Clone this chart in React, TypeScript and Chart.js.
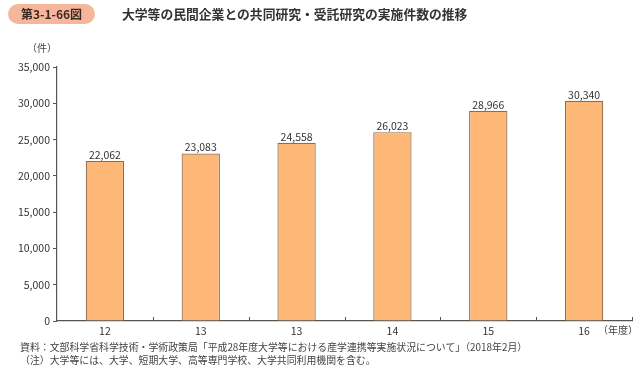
import React, { useEffect, useRef } from "react";
import { Chart, registerables } from "chart.js";

Chart.register(...registerables);

const categories = ["12", "13", "13", "14", "15", "16"];
const values = [22062, 23083, 24558, 26023, 28966, 30340];
const yTicks = [0, 5000, 10000, 15000, 20000, 25000, 30000, 35000];

const titleBadge = "第3-1-66図";
const titleText = "大学等の民間企業との共同研究・受託研究の実施件数の推移";
const yUnit = "（件）";
const xUnit = "（年度）";
const sourceLine = "資料：文部科学省科学技術・学術政策局「平成28年度大学等における産学連携等実施状況について」（2018年2月）";
const noteLine = "（注）大学等には、大学、短期大学、高等専門学校、大学共同利用機関を含む。";

const FONT = "'Noto Sans CJK JP', 'Noto Sans', sans-serif";
const fmt = (v: number) => v.toLocaleString("en-US");

export default function App() {
  const ref = useRef<HTMLCanvasElement>(null);

  useEffect(() => {
    const extras = {
      id: "extras",
      afterDatasetsDraw(chart: any) {
        const { ctx } = chart;
        const meta = chart.getDatasetMeta(0);
        ctx.save();
        ctx.fillStyle = "#333";
        ctx.font = `10.5px ${FONT}`;
        ctx.textAlign = "center";
        ctx.textBaseline = "bottom";
        meta.data.forEach((bar: any, i: number) => {
          ctx.fillText(fmt(values[i]), bar.x, bar.y - 1);
        });
        const xs = chart.scales.x;
        const ya = chart.chartArea.bottom;
        const step = xs.getPixelForValue(1) - xs.getPixelForValue(0);
        ctx.strokeStyle = "#555";
        ctx.lineWidth = 1;
        for (let i = 1; i <= categories.length; i++) {
          const px = Math.round(xs.getPixelForValue(i) - step / 2) + 0.5;
          ctx.beginPath();
          ctx.moveTo(px, ya);
          ctx.lineTo(px, ya - 4);
          ctx.stroke();
        }
        ctx.restore();
      },
    };

    const chart = new Chart(ref.current!, {
      type: "bar",
      data: {
        labels: categories,
        datasets: [
          {
            data: values,
            backgroundColor: "#FDB877",
            borderColor: "#946B4A",
            borderWidth: 1.2,
            barPercentage: 0.4,
            categoryPercentage: 1,
          },
        ],
      },
      options: {
        animation: false,
        responsive: false,
        maintainAspectRatio: false,
        layout: { padding: { left: 0, right: 8, top: 67, bottom: 29 } },
        plugins: { legend: { display: false }, tooltip: { enabled: false } },
        scales: {
          x: {
            offset: true,
            grid: { display: false, drawTicks: false },
            border: { display: true, color: "#555", width: 1.2 },
            ticks: { color: "#333", font: { family: FONT, size: 10.5 }, padding: 4, maxRotation: 0, autoSkip: false },
            afterFit: (s: any) => { s.height = 20; },
          },
          y: {
            min: 0,
            max: 35000,
            afterBuildTicks: (s: any) => { s.ticks = yTicks.map((v) => ({ value: v })); },
            grid: { drawOnChartArea: false, drawTicks: true, tickLength: 4, color: "#555" },
            border: { display: true, color: "#555", width: 1.2 },
            ticks: {
              color: "#333",
              font: { family: FONT, size: 10.5 },
              padding: 3,
              callback: (v: any) => fmt(Number(v)),
            },
            afterFit: (s: any) => { s.width = 57; },
          },
        },
      },
      plugins: [extras],
    });
    return () => chart.destroy();
  }, []);

  return (
    <div style={{ position: "fixed", left: 0, top: 0, width: 640, height: 370, background: "#fff", fontFamily: FONT, overflow: "hidden" }}>
      <canvas ref={ref} width={640} height={370} style={{ position: "absolute", left: 0, top: 0 }} />
      <div style={{ position: "absolute", left: 8, top: 4, width: 87, height: 20, borderRadius: 10, background: "#F6B69C", color: "#3a2a22", fontWeight: "bold", fontSize: 12, lineHeight: "20px", textAlign: "center" }}>
        {titleBadge}
      </div>
      <div style={{ position: "absolute", left: 122, top: 4, fontWeight: "bold", fontSize: 12.8, lineHeight: "20px", color: "#333", whiteSpace: "nowrap" }}>
        {titleText}
      </div>
      <div style={{ position: "absolute", left: 27, top: 40, fontSize: 10, color: "#444", whiteSpace: "nowrap" }}>{yUnit}</div>
      <div style={{ position: "absolute", left: 598, top: 322, fontSize: 10, color: "#444", whiteSpace: "nowrap" }}>{xUnit}</div>
      <div style={{ position: "absolute", left: 20, top: 341, fontSize: 9.9, color: "#444", whiteSpace: "nowrap", lineHeight: "13px" }}>
        <div>{sourceLine}</div>
        <div>{noteLine}</div>
      </div>
    </div>
  );
}
